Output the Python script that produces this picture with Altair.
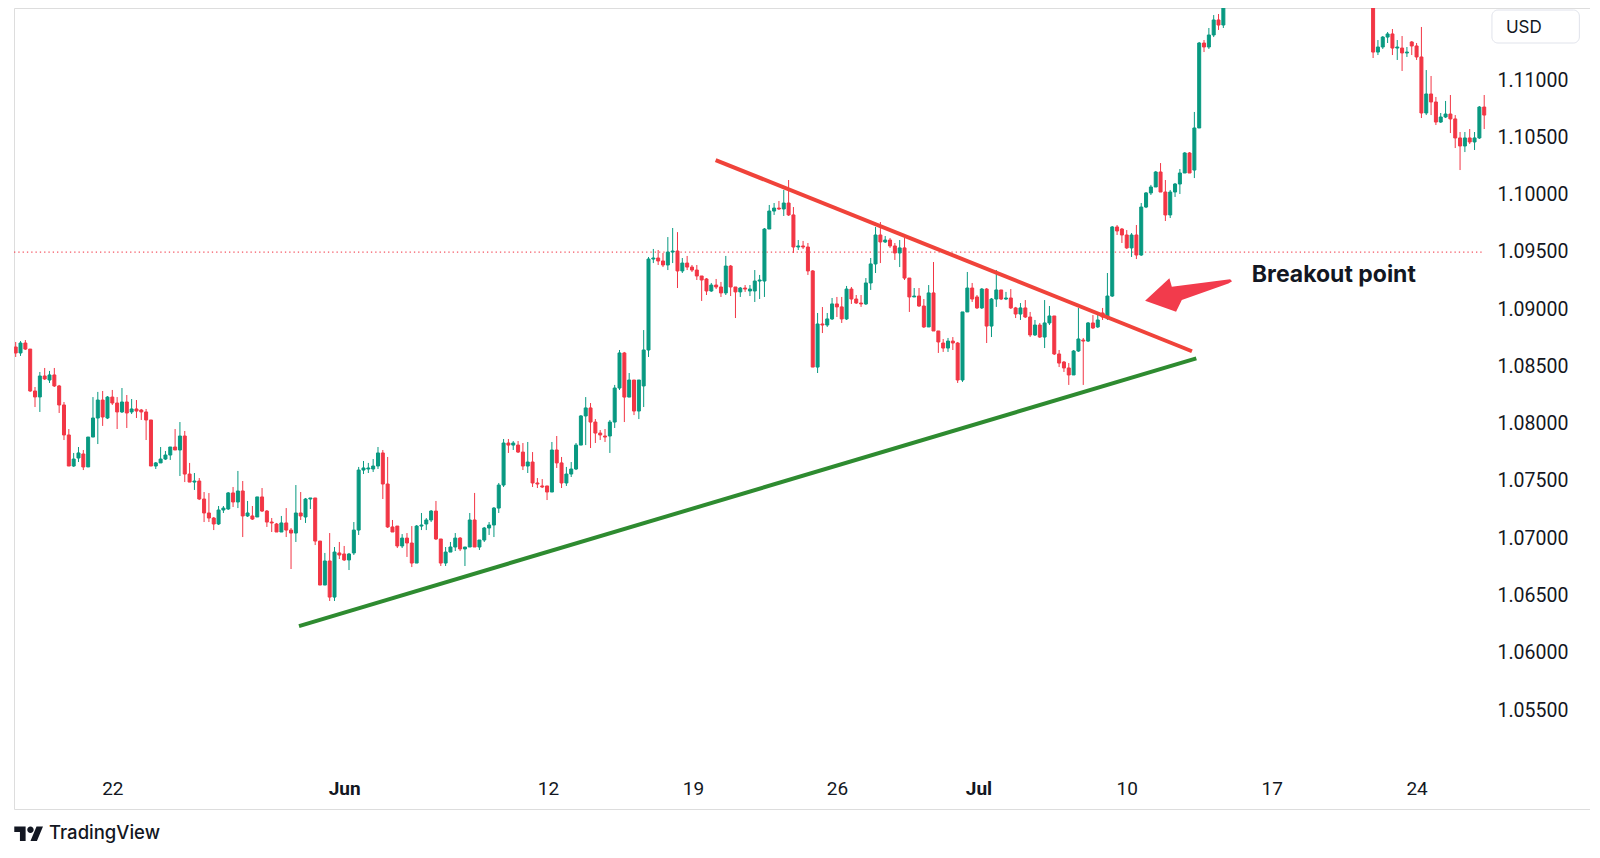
import altair as alt
import pandas as pd

# ---------------- data (4h candles, index = bar number) ----------------
candle_index = list(range(1, 252)) + list(range(282, 306))

opens = [
    1.08669, 1.08617, 1.08704, 1.08651, 1.08285, 1.08233, 1.08416, 1.08381, 1.08425, 1.08329,
    1.08163, 1.07901, 1.07630, 1.07700, 1.07735, 1.07622, 1.07883, 1.08049, 1.08206, 1.08049,
    1.08232, 1.08180, 1.08102, 1.08189, 1.08102, 1.08128, 1.08119, 1.08102, 1.08032, 1.07630,
    1.07657, 1.07691, 1.07726, 1.07796, 1.07770, 1.07892, 1.07560, 1.07490, 1.07499, 1.07342,
    1.07220, 1.07176, 1.07124, 1.07246, 1.07255, 1.07395, 1.07316, 1.07412, 1.07194, 1.07194,
    1.07185, 1.07360, 1.07237, 1.07141, 1.07124, 1.07054, 1.07133, 1.07071, 1.07045, 1.07220,
    1.07185, 1.07342, 1.07351, 1.06975, 1.06591, 1.06801, 1.06486, 1.06871, 1.06862, 1.06810,
    1.06871, 1.07071, 1.07595, 1.07604, 1.07604, 1.07630, 1.07744, 1.07473, 1.07098, 1.07106,
    1.06932, 1.07001, 1.06958, 1.06783, 1.07106, 1.07124, 1.07159, 1.07237, 1.06993, 1.06783,
    1.06879, 1.06923, 1.07001, 1.06906, 1.06923, 1.07159, 1.06923, 1.06984, 1.07089, 1.07115,
    1.07263, 1.07464, 1.07831, 1.07813, 1.07813, 1.07752, 1.07630, 1.07665, 1.07482, 1.07456,
    1.07456, 1.07403, 1.07770, 1.07657, 1.07482, 1.07560, 1.07604, 1.07813, 1.08067, 1.08137,
    1.08014, 1.07918, 1.07892, 1.07892, 1.08014, 1.08311, 1.08617, 1.08232, 1.08381, 1.08110,
    1.08329, 1.08643, 1.09437, 1.09446, 1.09420, 1.09385, 1.09498, 1.09507, 1.09333, 1.09402,
    1.09367, 1.09341, 1.09289, 1.09263, 1.09158, 1.09210, 1.09193, 1.09141, 1.09376, 1.09193,
    1.09150, 1.09184, 1.09158, 1.09158, 1.09245, 1.09245, 1.09699, 1.09856, 1.09882, 1.09874,
    1.09926, 1.09822, 1.09542, 1.09551, 1.09542, 1.09333, 1.08494, 1.08870, 1.08861, 1.08914,
    1.09045, 1.09019, 1.08914, 1.09175, 1.09088, 1.09053, 1.09045, 1.09228, 1.09394, 1.09647,
    1.09586, 1.09603, 1.09551, 1.09490, 1.09534, 1.09271, 1.09106, 1.09114, 1.09027, 1.08844,
    1.09141, 1.08809, 1.08704, 1.08660, 1.08721, 1.08704, 1.08381, 1.08975, 1.09184, 1.09106,
    1.09010, 1.09175, 1.08852, 1.09088, 1.09167, 1.09088, 1.09097, 1.09010, 1.08957, 1.09010,
    1.08931, 1.08774, 1.08861, 1.08756, 1.08879, 1.08940, 1.08608, 1.08538, 1.08486, 1.08425,
    1.08634, 1.08730, 1.08721, 1.08879, 1.08844, 1.08966, 1.08922, 1.09114, 1.09717, 1.09699,
    1.09647, 1.09534, 1.09647, 1.09472, 1.09891, 1.10014, 1.10066, 1.10197, 1.10022, 1.09822,
    1.10022, 1.10092, 1.10188, 1.10363, 1.10214, 1.10581, 1.11323, 1.11288, 1.11393, 1.11524,
    1.11480,
    1.11700, 1.11244, 1.11288, 1.11375, 1.11402, 1.11279, 1.11279, 1.11236, 1.11332, 1.11297,
    1.11201, 1.10712, 1.10878, 1.10808, 1.10633, 1.10677, 1.10703, 1.10660, 1.10494, 1.10424,
    1.10494, 1.10459, 1.10494, 1.10764,
]

highs = [
    1.08713, 1.08721, 1.08730, 1.08651, 1.08320, 1.08451, 1.08486, 1.08460, 1.08486, 1.08338,
    1.08189, 1.07953, 1.07744, 1.07796, 1.07770, 1.07883, 1.08232, 1.08277, 1.08285, 1.08241,
    1.08294, 1.08232, 1.08311, 1.08250, 1.08215, 1.08206, 1.08128, 1.08128, 1.08032, 1.07665,
    1.07796, 1.07761, 1.07796, 1.07953, 1.08014, 1.07936, 1.07657, 1.07569, 1.07525, 1.07403,
    1.07394, 1.07185, 1.07281, 1.07281, 1.07403, 1.07447, 1.07587, 1.07499, 1.07325, 1.07281,
    1.07360, 1.07438, 1.07246, 1.07176, 1.07133, 1.07194, 1.07263, 1.07089, 1.07464, 1.07403,
    1.07351, 1.07351, 1.07351, 1.06975, 1.06871, 1.07045, 1.06923, 1.06967, 1.06932, 1.06871,
    1.07141, 1.07622, 1.07674, 1.07657, 1.07691, 1.07796, 1.07770, 1.07709, 1.07159, 1.07106,
    1.07036, 1.07045, 1.07106, 1.07115, 1.07220, 1.07176, 1.07246, 1.07325, 1.06993, 1.06923,
    1.06967, 1.07045, 1.07010, 1.06923, 1.07220, 1.07395, 1.06984, 1.07098, 1.07141, 1.07272,
    1.07482, 1.07866, 1.07866, 1.07848, 1.07848, 1.07831, 1.07840, 1.07752, 1.07525, 1.07516,
    1.07456, 1.07840, 1.07892, 1.07709, 1.07622, 1.07665, 1.07831, 1.08075, 1.08232, 1.08180,
    1.08040, 1.07944, 1.07953, 1.08032, 1.08338, 1.08643, 1.08626, 1.08442, 1.08381, 1.08381,
    1.08817, 1.09455, 1.09525, 1.09516, 1.09490, 1.09629, 1.09708, 1.09672, 1.09446, 1.09464,
    1.09385, 1.09385, 1.09289, 1.09271, 1.09228, 1.09263, 1.09237, 1.09464, 1.09385, 1.09193,
    1.09193, 1.09210, 1.09210, 1.09341, 1.09298, 1.09708, 1.09909, 1.09926, 1.09944, 1.10040,
    1.10127, 1.09891, 1.09603, 1.09595, 1.09577, 1.09341, 1.08966, 1.09018, 1.08966, 1.09097,
    1.09106, 1.09106, 1.09202, 1.09193, 1.09123, 1.09123, 1.09271, 1.09446, 1.09717, 1.09760,
    1.09638, 1.09621, 1.09577, 1.09603, 1.09621, 1.09271, 1.09184, 1.09184, 1.09088, 1.09210,
    1.09411, 1.08809, 1.08739, 1.08748, 1.08756, 1.08713, 1.08975, 1.09324, 1.09228, 1.09123,
    1.09184, 1.09184, 1.09097, 1.09341, 1.09167, 1.09150, 1.09175, 1.09019, 1.09053, 1.09079,
    1.08975, 1.08905, 1.08879, 1.09079, 1.09027, 1.08940, 1.08643, 1.08547, 1.08529, 1.08643,
    1.09010, 1.08748, 1.08887, 1.08948, 1.08957, 1.09010, 1.09315, 1.09725, 1.09734, 1.09708,
    1.09690, 1.09664, 1.09734, 1.09926, 1.10022, 1.10084, 1.10206, 1.10275, 1.10127, 1.10040,
    1.10101, 1.10223, 1.10371, 1.10371, 1.10721, 1.11332, 1.11349, 1.11454, 1.11567, 1.11576,
    1.11750,
    1.11750, 1.11349, 1.11384, 1.11419, 1.11445, 1.11349, 1.11384, 1.11288, 1.11340, 1.11323,
    1.11463, 1.11087, 1.11035, 1.10852, 1.10712, 1.10817, 1.10869, 1.10694, 1.10546, 1.10546,
    1.10572, 1.10546, 1.10773, 1.10869,
]

lows = [
    1.08582, 1.08591, 1.08643, 1.08277, 1.08145, 1.08102, 1.08381, 1.08355, 1.08320, 1.08093,
    1.07857, 1.07630, 1.07622, 1.07665, 1.07595, 1.07622, 1.07883, 1.07822, 1.07980, 1.08040,
    1.08163, 1.07953, 1.08093, 1.07962, 1.08084, 1.08049, 1.08032, 1.07857, 1.07630, 1.07604,
    1.07657, 1.07683, 1.07683, 1.07770, 1.07543, 1.07490, 1.07490, 1.07421, 1.07333, 1.07141,
    1.07141, 1.07071, 1.07115, 1.07220, 1.07246, 1.07272, 1.07263, 1.07010, 1.07185, 1.07159,
    1.07185, 1.07229, 1.07098, 1.07054, 1.07054, 1.07054, 1.07010, 1.06731, 1.06967, 1.07159,
    1.07133, 1.07255, 1.06940, 1.06591, 1.06591, 1.06452, 1.06452, 1.06818, 1.06801, 1.06722,
    1.06853, 1.07028, 1.07560, 1.07569, 1.07578, 1.07604, 1.07342, 1.07089, 1.07054, 1.06914,
    1.06914, 1.06836, 1.06748, 1.06783, 1.07071, 1.07071, 1.07141, 1.06984, 1.06757, 1.06757,
    1.06879, 1.06888, 1.06888, 1.06757, 1.06923, 1.06923, 1.06897, 1.06967, 1.07028, 1.07010,
    1.07220, 1.07447, 1.07744, 1.07770, 1.07744, 1.07595, 1.07569, 1.07447, 1.07438, 1.07438,
    1.07333, 1.07403, 1.07613, 1.07438, 1.07456, 1.07534, 1.07595, 1.07813, 1.07813, 1.07787,
    1.07831, 1.07857, 1.07840, 1.07744, 1.07962, 1.08294, 1.08014, 1.08232, 1.08075, 1.08040,
    1.08145, 1.08582, 1.09402, 1.09385, 1.09367, 1.09341, 1.09402, 1.09184, 1.09315, 1.09341,
    1.09324, 1.09254, 1.09071, 1.09123, 1.09150, 1.09175, 1.09106, 1.09123, 1.09114, 1.08922,
    1.09106, 1.09150, 1.09114, 1.09062, 1.09088, 1.09106, 1.09699, 1.09822, 1.09865, 1.09813,
    1.09813, 1.09490, 1.09516, 1.09525, 1.09298, 1.08494, 1.08442, 1.08791, 1.08844, 1.08905,
    1.08931, 1.08879, 1.08905, 1.09045, 1.09045, 1.09019, 1.09036, 1.09167, 1.09315, 1.09402,
    1.09577, 1.09534, 1.09429, 1.09367, 1.09254, 1.08975, 1.09106, 1.09019, 1.08835, 1.08844,
    1.08809, 1.08617, 1.08626, 1.08626, 1.08643, 1.08355, 1.08364, 1.08975, 1.09062, 1.09001,
    1.09001, 1.08704, 1.08756, 1.09019, 1.09079, 1.09079, 1.09001, 1.08922, 1.08905, 1.08922,
    1.08756, 1.08765, 1.08748, 1.08660, 1.08861, 1.08599, 1.08494, 1.08451, 1.08338, 1.08425,
    1.08626, 1.08338, 1.08713, 1.08826, 1.08835, 1.08905, 1.08905, 1.09106, 1.09647, 1.09577,
    1.09525, 1.09455, 1.09437, 1.09464, 1.09882, 1.09996, 1.10066, 1.10022, 1.09769, 1.09795,
    1.09979, 1.10005, 1.10188, 1.10188, 1.10144, 1.10581, 1.11244, 1.11271, 1.11375, 1.11437,
    1.11454,
    1.11192, 1.11218, 1.11271, 1.11323, 1.11218, 1.11175, 1.11079, 1.11201, 1.11218, 1.11175,
    1.10668, 1.10694, 1.10694, 1.10607, 1.10625, 1.10668, 1.10537, 1.10406, 1.10214, 1.10371,
    1.10441, 1.10389, 1.10485, 1.10572,
]

closes = [
    1.08617, 1.08704, 1.08651, 1.08285, 1.08233, 1.08416, 1.08390, 1.08425, 1.08329, 1.08163,
    1.07901, 1.07630, 1.07691, 1.07744, 1.07622, 1.07883, 1.08049, 1.08206, 1.08058, 1.08232,
    1.08180, 1.08102, 1.08189, 1.08093, 1.08128, 1.08110, 1.08102, 1.08032, 1.07630, 1.07657,
    1.07691, 1.07726, 1.07796, 1.07770, 1.07892, 1.07560, 1.07490, 1.07499, 1.07342, 1.07220,
    1.07176, 1.07124, 1.07246, 1.07263, 1.07395, 1.07316, 1.07412, 1.07194, 1.07220, 1.07167,
    1.07360, 1.07237, 1.07141, 1.07133, 1.07054, 1.07133, 1.07071, 1.07045, 1.07220, 1.07194,
    1.07342, 1.07351, 1.06975, 1.06591, 1.06801, 1.06486, 1.06879, 1.06853, 1.06810, 1.06862,
    1.07071, 1.07595, 1.07613, 1.07613, 1.07630, 1.07744, 1.07473, 1.07098, 1.07054, 1.06932,
    1.07001, 1.06958, 1.06783, 1.07106, 1.07115, 1.07159, 1.07237, 1.06993, 1.06783, 1.06879,
    1.06923, 1.07001, 1.06906, 1.06923, 1.07159, 1.06923, 1.06984, 1.07089, 1.07115, 1.07263,
    1.07464, 1.07831, 1.07813, 1.07831, 1.07752, 1.07630, 1.07665, 1.07482, 1.07473, 1.07447,
    1.07403, 1.07770, 1.07657, 1.07482, 1.07560, 1.07604, 1.07813, 1.08067, 1.08137, 1.08014,
    1.07918, 1.07901, 1.07883, 1.08014, 1.08311, 1.08617, 1.08232, 1.08381, 1.08110, 1.08381,
    1.08643, 1.09437, 1.09446, 1.09420, 1.09385, 1.09498, 1.09507, 1.09333, 1.09402, 1.09367,
    1.09341, 1.09289, 1.09254, 1.09158, 1.09210, 1.09193, 1.09141, 1.09376, 1.09193, 1.09150,
    1.09184, 1.09175, 1.09175, 1.09245, 1.09254, 1.09699, 1.09856, 1.09882, 1.09874, 1.09926,
    1.09822, 1.09542, 1.09551, 1.09542, 1.09333, 1.08494, 1.08870, 1.08861, 1.08914, 1.09045,
    1.09019, 1.08914, 1.09175, 1.09088, 1.09053, 1.09045, 1.09228, 1.09394, 1.09647, 1.09586,
    1.09603, 1.09551, 1.09490, 1.09534, 1.09271, 1.09106, 1.09114, 1.09027, 1.08844, 1.09141,
    1.08809, 1.08713, 1.08660, 1.08721, 1.08704, 1.08381, 1.08975, 1.09184, 1.09088, 1.09010,
    1.09175, 1.08852, 1.09088, 1.09167, 1.09088, 1.09097, 1.09010, 1.08957, 1.09010, 1.08931,
    1.08774, 1.08861, 1.08756, 1.08879, 1.08940, 1.08608, 1.08529, 1.08486, 1.08425, 1.08634,
    1.08739, 1.08721, 1.08879, 1.08835, 1.08905, 1.08931, 1.09114, 1.09717, 1.09682, 1.09647,
    1.09534, 1.09647, 1.09472, 1.09891, 1.10014, 1.10066, 1.10197, 1.10022, 1.09822, 1.10022,
    1.10092, 1.10188, 1.10363, 1.10188, 1.10581, 1.11323, 1.11288, 1.11393, 1.11524, 1.11480,
    1.11700,
    1.11244, 1.11288, 1.11375, 1.11402, 1.11279, 1.11288, 1.11236, 1.11244, 1.11297, 1.11201,
    1.10712, 1.10878, 1.10808, 1.10633, 1.10677, 1.10703, 1.10660, 1.10494, 1.10424, 1.10494,
    1.10459, 1.10494, 1.10764, 1.10694,
]

assert len(opens) == len(highs) == len(lows) == len(closes) == len(candle_index)

# time axis labels (bar index of the first bar of the labelled day)
tick_pos = [21.0, 69.0, 111.2, 141.2, 171.0, 200.3, 231.0, 261.0, 291.0]
tick_text = ["22", "Jun", "12", "19", "26", "Jul", "10", "17", "24"]
month_labels = ["Jun", "Jul"]

price_ticks = [1.055, 1.060, 1.065, 1.070, 1.075, 1.080, 1.085, 1.090, 1.095, 1.100, 1.105, 1.110]

# drawn trend lines / level (bar index, price)
resistance_x = [145.9, 244.5]
resistance_y = [1.10301, 1.08632]
support_x = [59.65, 245.4]
support_y = [1.06233, 1.08570]
level_x = [0.65, 305.0]
level_y = [1.09498, 1.09498]

# annotations (bar index, price)
note_text = ["Breakout point"]
note_x = [256.9]
note_y = [1.09239]
arrow_x = [243.7]
arrow_y = [1.09123]
usd_box = {"x0": [306.6], "x1": [324.7], "y0": [1.11323], "y1": [1.11611]}
usd_text = ["USD"]
usd_text_x = [309.5]
usd_text_y = [1.11458]
brand_text = ["TradingView"]
brand_x = [7.9]
brand_y = [1.04375]
logo_x = [3.68]
logo_y = [1.04420]

X_DOMAIN = [0.65, 326.9]
Y_DOMAIN = [1.046358, 1.116286]

UP = "#089981"
DOWN = "#f23645"
TEXT = "#131722"
FONT = "Inter"
AXIS_FONT = "Roboto"

# ---------------- chart ----------------
df = pd.DataFrame({"i": candle_index, "open": opens, "high": highs, "low": lows, "close": closes})
df["dir"] = ["up" if c >= o else "down" for o, c in zip(df["open"], df["close"])]

mids = [(tick_pos[k] + tick_pos[k + 1]) / 2 for k in range(len(tick_pos) - 1)]
label_expr = "".join(f"datum.value < {m} ? '{t}' : " for m, t in zip(mids, tick_text[:-1])) + f"'{tick_text[-1]}'"
bold_test = " || ".join(f"abs(datum.value - {p}) < 1" for p, t in zip(tick_pos, tick_text) if t in month_labels)

x_axis = alt.Axis(
    values=tick_pos, labelExpr=label_expr, orient="bottom", offset=-30,
    domain=False, ticks=False, tickSize=0, grid=False, labelPadding=0,
    labelFont=AXIS_FONT, labelFontSize=19, labelColor=TEXT, labelBaseline="top", labelAlign="center",
    labelFontWeight={"condition": {"test": bold_test, "value": "bold"}, "value": "normal"},
    labelOverlap=False, labelFlush=False, title=None,
)
y_axis = alt.Axis(
    values=price_ticks, format=".5f", orient="right", offset=-93,
    domain=False, ticks=False, tickSize=0, grid=False, labelPadding=0,
    labelFont=AXIS_FONT, labelFontSize=19.5, labelColor=TEXT, labelAlign="left", labelBaseline="middle",
    labelOverlap=False, labelFlush=False, title=None,
)

xs = alt.Scale(domain=X_DOMAIN, nice=False, zero=False, padding=0)
ys = alt.Scale(domain=Y_DOMAIN, nice=False, zero=False, padding=0)


def X(f):
    return alt.X(f, type="quantitative", scale=xs, axis=x_axis)


def Y(f):
    return alt.Y(f, type="quantitative", scale=ys, axis=y_axis)


cs = alt.Scale(domain=["up", "down"], range=[UP, DOWN])

level = alt.Chart(pd.DataFrame({"x": level_x, "y": level_y})).mark_line(
    color="#f23645", strokeWidth=1.2, strokeDash=[1.3, 3], opacity=0.85
).encode(x=X("x"), y=Y("y"))

wicks = alt.Chart(df).mark_rule(strokeWidth=1, clip=True).encode(
    x=X("i"), y=Y("low"), y2="high", color=alt.Color("dir:N", scale=cs, legend=None)
)
bodies = alt.Chart(df).mark_bar(size=3, strokeWidth=1, clip=True).encode(
    x=X("i"), y=Y("open"), y2="close",
    fill=alt.Fill("dir:N", scale=cs, legend=None),
    stroke=alt.Stroke("dir:N", scale=cs, legend=None),
)

support = alt.Chart(pd.DataFrame({"x": support_x, "y": support_y})).mark_line(
    color="#2e8b30", strokeWidth=4
).encode(x=X("x"), y=Y("y"))
resistance = alt.Chart(pd.DataFrame({"x": resistance_x, "y": resistance_y})).mark_line(
    color="#f0433a", strokeWidth=4
).encode(x=X("x"), y=Y("y"))

arrow_path = ("M -0.977 0.130 L -0.425 -0.380 L -0.370 -0.189 L 0.955 -0.357 "
              "L 1.0 -0.311 L 0.916 -0.261 L -0.143 0.114 L -0.273 0.380 Z")
arrow = alt.Chart(pd.DataFrame({"x": arrow_x, "y": arrow_y})).mark_point(
    shape=arrow_path, size=7744, filled=True, color="#f23b4c", opacity=1, strokeWidth=0
).encode(x=X("x"), y=Y("y"))

note = alt.Chart(pd.DataFrame({"x": note_x, "y": note_y, "t": note_text})).mark_text(
    align="left", baseline="alphabetic", font=FONT, fontSize=23, fontWeight="bold", color=TEXT
).encode(x=X("x"), y=Y("y"), text="t:N")

usd_rect = alt.Chart(pd.DataFrame(usd_box)).mark_rect(
    cornerRadius=6, fill="white", stroke="#e0e3eb", strokeWidth=1
).encode(x=X("x0"), x2="x1", y=Y("y0"), y2="y1")
usd_label = alt.Chart(pd.DataFrame({"x": usd_text_x, "y": usd_text_y, "t": usd_text})).mark_text(
    align="left", baseline="middle", font=FONT, fontSize=17, fontWeight="normal", color=TEXT
).encode(x=X("x"), y=Y("y"), text="t:N")

logo_path = ("M -1 -0.507 L -0.211 -0.507 L -0.211 0.507 L -0.606 0.507 L -0.606 -0.113 L -1 -0.113 Z "
             "M 0.352 -0.282 A 0.225 0.225 0 1 1 -0.098 -0.282 A 0.225 0.225 0 1 1 0.352 -0.282 Z "
             "M 0.127 0.507 L 0.549 -0.507 L 1 -0.507 L 0.577 0.507 Z")
logo = alt.Chart(pd.DataFrame({"x": logo_x, "y": logo_y})).mark_point(
    shape=logo_path, size=824, filled=True, color=TEXT, opacity=1, strokeWidth=0
).encode(x=X("x"), y=Y("y"))
brand = alt.Chart(pd.DataFrame({"x": brand_x, "y": brand_y, "t": brand_text})).mark_text(
    align="left", baseline="alphabetic", font=FONT, fontSize=18.5, fontWeight=500, color=TEXT
).encode(x=X("x"), y=Y("y"), text="t:N")

chart = alt.layer(
    level, wicks, bodies, support, resistance, arrow, note, usd_rect, usd_label, logo, brand
).properties(
    width=1576, height=801,
    autosize=alt.AutoSizeParams(type="none"),
    padding={"left": 6, "top": 0, "right": 0, "bottom": 36},
).configure_view(stroke="#e0e3eb", strokeWidth=1).configure(background="white")

chart.save("out.html", embed_options={"renderer": "svg", "actions": False})
